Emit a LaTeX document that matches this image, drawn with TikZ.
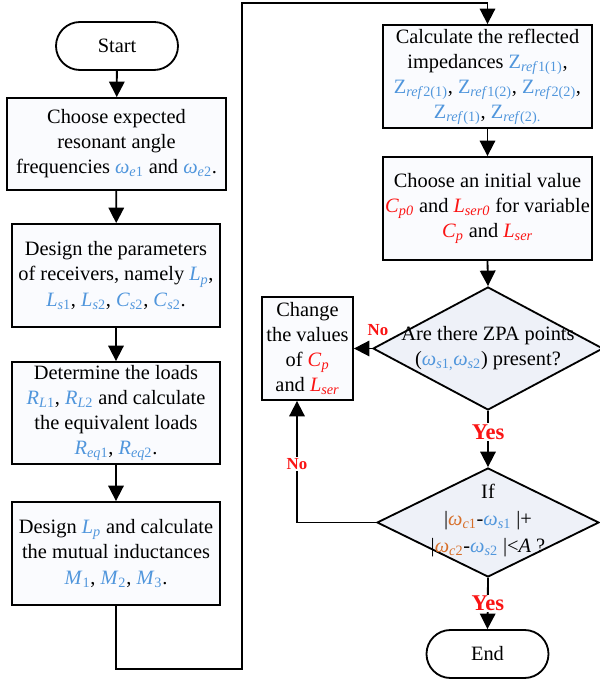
\documentclass[tikz,border=0pt]{standalone}
\usepackage{fontspec}
\setmainfont{Liberation Serif}
\usetikzlibrary{shapes.geometric,arrows.meta}

\definecolor{symblue}{RGB}{80,150,220}
\definecolor{symred}{RGB}{250,20,20}
\definecolor{symorange}{RGB}{215,110,40}
\definecolor{boxfill}{RGB}{250,251,254}
\definecolor{decfill}{RGB}{238,241,248}
\newcommand{\bl}[1]{\textcolor{symblue}{#1}}
\newcommand{\rd}[1]{\textcolor{symred}{#1}}
\newcommand{\og}[1]{\textcolor{symorange}{#1}}
\newcommand{\ita}[1]{\textit{#1}}
\newcommand{\vsym}[2]{\textit{#1}\textsubscript{#2}}

\begin{document}
\begin{tikzpicture}[line width=1.3pt, font=\fontsize{14.5}{17.8}\selectfont,
  proc/.style={draw,fill=boxfill,align=center,inner sep=1pt,minimum width=5.2cm,minimum height=2.575cm},
  term/.style={draw,rounded corners=0.6cm,minimum width=3.05cm,minimum height=1.2cm},
  decide/.style={draw,fill=decfill,diamond,inner sep=0pt},
  flow/.style={-{Triangle[width=11pt,length=11pt]}},
  answer/.style={text=symred,font=\bfseries\fontsize{16}{18}\selectfont,fill=white,inner sep=1pt},
  nolabel/.style={text=symred,font=\bfseries\fontsize{12}{14}\selectfont,fill=white,inner sep=1pt}]

\useasboundingbox (0,0) rectangle (14.975,17);

% left column
\node[term] (start) at (2.925,15.85) {Start};
\node[proc,minimum width=5.475cm,minimum height=2.3cm] (expect) at (2.9125,13.4)
  {Choose expected\\resonant angle\\frequencies \bl{\vsym{ω}{\ita{e}1}} and \bl{\vsym{ω}{\ita{e}2}}.};
\node[proc] (recv) at (2.9,10.1125)
  {Design the parameters\\of receivers, namely \bl{\vsym{L}{\ita{p}}},\\
   \bl{\vsym{L}{\ita{s}1}}, \bl{\vsym{L}{\ita{s}2}}, \bl{\vsym{C}{\ita{s}2}}, \bl{\vsym{C}{\ita{s}2}}.};
\node[proc,minimum height=2.55cm] (loads) at (2.9,6.675)
  {Determine the loads\\\bl{\vsym{R}{\ita{L}1}}, \bl{\vsym{R}{\ita{L}2}} and calculate\\
   the equivalent loads\\\bl{\vsym{R}{\ita{eq}1}}, \bl{\vsym{R}{\ita{eq}2}}.};
\node[proc] (mutual) at (2.9,3.1625)
  {Design \bl{\vsym{L}{\ita{p}}} and calculate\\the mutual inductances\\
   \bl{\vsym{M}{1}}, \bl{\vsym{M}{2}}, \bl{\vsym{M}{3}}.};

% right column
\node[proc,minimum width=5.225cm] (reflect) at (12.1875,15.0875)
  {Calculate the reflected\\impedances \bl{Z\textsubscript{\ita{ref}1(1)}},\\
   \bl{Z\textsubscript{\ita{ref}2(1)}}, \bl{Z\textsubscript{\ita{ref}1(2)}}, \bl{Z\textsubscript{\ita{ref}2(2)}},\\
   \bl{Z\textsubscript{\ita{ref}(1)}}, \bl{Z\textsubscript{\ita{ref}(2).}}};
\node[proc,minimum width=5.225cm] (init) at (12.1875,11.7875)
  {Choose an initial value\\\rd{\vsym{C}{\ita{p0}}} and \rd{\vsym{L}{\ita{ser0}}} for variable\\
   \rd{\vsym{C}{\ita{p}}} and \rd{\vsym{L}{\ita{ser}}}};
\node[decide,minimum width=5.75cm,minimum height=3.075cm] (zpa) at (12.2,8.2875) {};
\node[align=center] (zpatext) at (zpa.center)
  {Are there ZPA points\\(\bl{\vsym{ω}{\ita{s}1,}\vsym{ω}{\ita{s}2}}) present?};
\node[proc,minimum width=2.275cm] (change) at (7.6875,8.2875)
  {Change\\the values\\of \rd{\vsym{C}{\ita{p}}}\\and \rd{\vsym{L}{\ita{ser}}}};
\node[decide,minimum width=5.55cm,minimum height=2.725cm] (cond) at (12.2,3.9375) {};
\node[align=center,font=\fontsize{14.5}{19.5}\selectfont] (condtext) at ([yshift=0.05cm]cond.center)
  {If\\|\og{\vsym{ω}{\ita{c}1}}-\bl{\vsym{ω}{\ita{s}1}} |+\\
   |\og{\vsym{ω}{\ita{c}2}}-\bl{\vsym{ω}{\ita{s}2}} |<\ita{A} ?};
\node[term] (finish) at (12.1875,0.65) {End};

% connectors
\draw[flow] (start) -- (expect);
\draw[flow] (expect) -- (recv);
\draw[flow] (recv) -- (loads);
\draw[flow] (loads) -- (mutual);
\coordinate (low) at (2.9,0.275);
\coordinate (high) at (6.05,16.925);
\draw[flow] (mutual.south) -- (low) -| (high) -| (reflect.north);
\draw[flow] (reflect) -- (init);
\draw[flow] (init.south) -- (zpa.north);
\draw[flow] (zpa.west) -- (change.east);
\node[nolabel] (no1) at (9.45,8.75) {No};
\draw[flow] (zpa.south) -- node[answer,pos=0.38] (yes1) {Yes} (cond.north);
\draw[flow] (cond.south) -- node[answer] (yes2) {Yes} (finish.north);
\draw[flow] (cond.west) -| node[nolabel,pos=0.74] (no2) {No} ([xshift=-0.2625cm]change.south);

\end{tikzpicture}
\end{document}
